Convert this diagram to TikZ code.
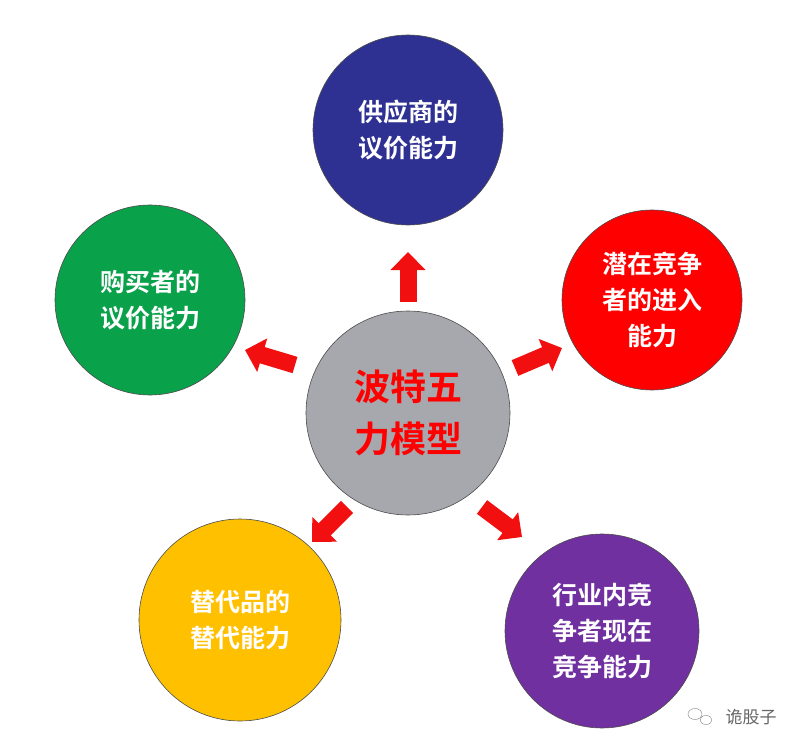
\documentclass[tikz,border=0pt]{standalone}
\usepackage{fontspec}
\setmainfont{Noto Sans CJK SC}[BoldFont={* Bold}]
\usetikzlibrary{arrows.meta,shapes.geometric}
\definecolor{cnavy}{HTML}{2E3192}
\definecolor{cred}{HTML}{FF0000}
\definecolor{cgreen}{HTML}{0AA14B}
\definecolor{cyel}{HTML}{FFC000}
\definecolor{cpurp}{HTML}{7030A0}
\definecolor{cgray}{HTML}{A7A7AE}
\definecolor{arr}{HTML}{F20F0F}
\begin{document}
\begin{tikzpicture}[x=1pt,y=-1pt,
  ball/.style={circle,draw=black!70,line width=0.6pt,inner sep=0pt,text=white,font=\bfseries\fontsize{25}{36}\selectfont,align=center},
  force/.style={draw=arr,line width=17pt,-{Triangle[width=34pt,length=18pt]}}]
\useasboundingbox (0,0) rectangle (806,754);
\fill[white] (0,0) rectangle (806,754);
\node[ball,fill=cgray,minimum size=204pt,text=red,font=\bfseries\fontsize{36}{52}\selectfont] (c) at (408,413) {波特五\\力模型};
\node[ball,fill=cnavy,minimum size=190pt] (top) at (408,130) {供应商的\\议价能力};
\node[ball,fill=cred,minimum size=180pt] (r) at (652,300) {潜在竞争\\者的进入\\能力};
\node[ball,fill=cgreen,minimum size=190pt] (l) at (150,300) {购买者的\\议价能力};
\node[ball,fill=cyel,minimum size=202pt] (bl) at (240,620) {替代品的\\替代能力};
\node[ball,fill=cpurp,minimum size=194pt] (br) at (602,631) {行业内竞\\争者现在\\竞争能力};
\coordinate (t1) at (408,302); \coordinate (t2) at (408,252);
\coordinate (l1) at (295,365); \coordinate (l2) at (245,350);
\coordinate (r1) at (515,368); \coordinate (r2) at (562,348);
\coordinate (a1) at (347,507); \coordinate (a2) at (312,542);
\coordinate (b1) at (482,507); \coordinate (b2) at (522,537);
\draw[force] (t1) -- (t2);
\draw[force] (l1) -- (l2);
\draw[force] (r1) -- (r2);
\draw[force] (a1) -- (a2);
\draw[force] (b1) -- (b2);
\node[text=black!60,font=\fontsize{17}{20}\selectfont,anchor=west] (wm) at (722,717) {诡股子};
\node[draw=black!50,ellipse,minimum width=14pt,minimum height=11pt,inner sep=0pt] (w1) at (695,714) {};
\node[draw=black!50,ellipse,minimum width=12pt,minimum height=9pt,inner sep=0pt] (w2) at (706,720) {};
\end{tikzpicture}
\end{document}
